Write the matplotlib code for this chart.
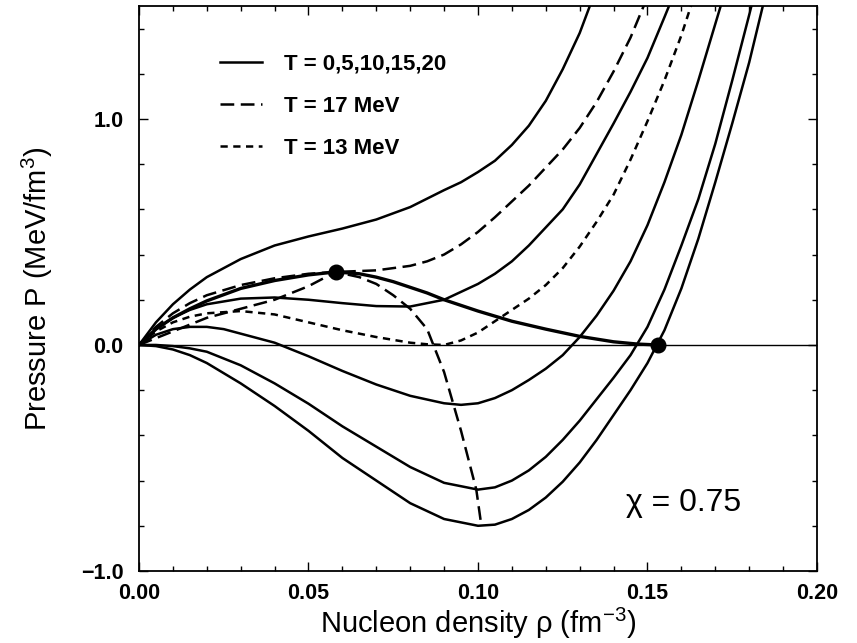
import numpy as np
import matplotlib
matplotlib.use("Agg")
import matplotlib.pyplot as plt
from matplotlib.ticker import MultipleLocator, FixedLocator

plt.rcParams['font.family'] = ['Liberation Sans', 'DejaVu Sans']
plt.rcParams['mathtext.fontset'] = 'custom'
plt.rcParams['mathtext.rm'] = 'Liberation Sans'
plt.rcParams['mathtext.it'] = 'Liberation Sans:italic'
plt.rcParams['mathtext.bf'] = 'Liberation Sans:bold'
plt.rcParams['mathtext.default'] = 'regular'

# ---------------- data ----------------
rho_T20 = [0, .005, .01, .015, .02, .03, .04, .05, .06, .07, .08, .09, .095, .10, .105, .11, .115, .12, .125, .13, .135]
P_T20 = [0, .10, .18, .245, .30, .38, .44, .48, .515, .555, .61, .685, .72, .765, .815, .885, .97, 1.08, 1.22, 1.38, 1.58]

rho_T17 = [0, .005, .01, .015, .02, .03, .04, .05, .058, .07, .08, .085, .09, .095, .10, .105, .11, .115, .12, .125, .13, .135, .14, .145, .15]
P_T17 = [0, .08, .14, .185, .22, .265, .295, .315, .323, .33, .35, .37, .40, .445, .50, .565, .635, .705, .785, .865, .96, 1.075, 1.21, 1.36, 1.54]

rho_T15 = [0, .005, .01, .015, .02, .03, .04, .05, .06, .07, .08, .09, .10, .105, .11, .115, .12, .125, .13, .135, .14, .145, .15, .155, .158]
P_T15 = [0, .07, .12, .155, .18, .205, .21, .20, .185, .172, .17, .20, .27, .315, .37, .44, .52, .60, .71, .845, .98, 1.12, 1.27, 1.45, 1.56]

rho_T13 = [0, .005, .01, .015, .02, .03, .04, .05, .06, .07, .08, .085, .09, .095, .10, .105, .11, .115, .12, .125, .13, .135, .14, .145, .15, .155, .16, .165]
P_T13 = [0, .06, .10, .125, .14, .15, .135, .10, .065, .035, .01, .003, 0, .02, .055, .105, .155, .205, .265, .34, .435, .545, .665, .82, .99, 1.17, 1.37, 1.60]

rho_T10 = [0, .005, .01, .015, .02, .025, .03, .04, .05, .06, .07, .08, .09, .095, .10, .105, .11, .115, .12, .125, .13, .135, .14, .145, .15, .155, .16, .165, .17, .173]
P_T10 = [0, .045, .07, .08, .08, .07, .05, .01, -.05, -.115, -.175, -.225, -.258, -.265, -.258, -.235, -.2, -.155, -.105, -.045, .035, .13, .24, .37, .53, .72, .93, 1.17, 1.42, 1.57]

rho_T5 = [0, .005, .01, .015, .02, .03, .04, .05, .06, .07, .08, .09, .10, .105, .11, .115, .12, .125, .13, .135, .14, .145, .15, .155, .16, .165, .17, .175, .18, .182]
P_T5 = [0, 0, -.005, -.015, -.03, -.09, -.17, -.26, -.36, -.45, -.54, -.61, -.64, -.63, -.6, -.555, -.495, -.42, -.335, -.24, -.145, -.045, .08, .245, .44, .645, .89, 1.17, 1.46, 1.58]

rho_T0 = [0, .005, .01, .015, .02, .03, .04, .05, .06, .07, .08, .09, .10, .105, .11, .115, .12, .125, .13, .135, .14, .145, .15, .155, .16, .165, .17, .175, .18, .185]
P_T0 = [0, -.005, -.02, -.045, -.08, -.17, -.27, -.38, -.5, -.6, -.7, -.77, -.80, -.795, -.77, -.73, -.675, -.605, -.52, -.42, -.31, -.20, -.08, .065, .25, .47, .72, .98, 1.25, 1.56]

rho_binodal = [0, .005, .01, .015, .02, .03, .04, .05, .058, .065, .07, .075, .08, .085, .09, .10, .11, .12, .13, .14, .147, .153]
P_binodal = [0, .07, .12, .16, .195, .25, .285, .31, .323, .315, .30, .28, .255, .23, .20, .15, .105, .07, .038, .014, .004, 0]

rho_spinodal = [0, .01, .02, .03, .04, .05, .058, .065, .07, .075, .08, .085, .09, .095, .0995, .101]
P_spinodal = [0, .06, .12, .16, .2, .26, .323, .30, .27, .22, .16, .07, -.12, -.38, -.64, -.80]

rho_points = [0.058, 0.153]
P_points = [0.323, 0.0]

legend_labels = ['T = 0,5,10,15,20', 'T = 17 MeV', 'T = 13 MeV']
chi_label = 'χ = 0.75'

x_ticks = [0.00, 0.05, 0.10, 0.15, 0.20]
x_ticklabels = ['0.00', '0.05', '0.10', '0.15', '0.20']
y_ticks = [-1.0, 0.0, 1.0]
y_ticklabels = ['\u22121.0', '0.0', '1.0']

# ---------------- figure ----------------
fig = plt.figure(figsize=(8.57, 6.43), dpi=100)
ax = fig.add_axes([0.1622, 0.112, 0.7911, 0.8788])

lw = 1.8
long_dash = (5.5, 2.6)
short_dash = (2.9, 2.2)

ax.axhline(0.0, color='black', lw=1.0, zorder=1)

h_solid, = ax.plot(rho_T20, P_T20, color='black', lw=lw)
for r, p in [(rho_T15, P_T15), (rho_T10, P_T10), (rho_T5, P_T5), (rho_T0, P_T0)]:
    ax.plot(r, p, color='black', lw=lw)

h_17, = ax.plot(rho_T17, P_T17, color='black', lw=lw, linestyle=(0, long_dash))
h_13, = ax.plot(rho_T13, P_T13, color='black', lw=lw, linestyle=(0, short_dash))

ax.plot(rho_binodal, P_binodal, color='black', lw=2.4)
ax.plot(rho_spinodal, P_spinodal, color='black', lw=lw, linestyle=(0, long_dash))

ax.plot(rho_points, P_points, 'o', color='black', markersize=10.5, zorder=5)

ax.set_xlim(0.0, 0.2)
ax.set_ylim(-1.0, 1.5)

ax.xaxis.set_major_locator(FixedLocator(x_ticks))
ax.set_xticklabels(x_ticklabels)
ax.xaxis.set_minor_locator(MultipleLocator(0.01))
ax.yaxis.set_major_locator(FixedLocator(y_ticks))
ax.set_yticklabels(y_ticklabels)
ax.yaxis.set_minor_locator(MultipleLocator(0.2))

ax.tick_params(which='both', direction='in', top=True, right=True, width=1.0)
ax.tick_params(which='major', length=6.5)
ax.tick_params(which='minor', length=3.5)
ax.tick_params(axis='x', which='major', pad=9, labelsize=15.5)
ax.tick_params(axis='y', which='major', pad=11, labelsize=15.5)
for lab in ax.get_xticklabels() + ax.get_yticklabels():
    lab.set_fontweight('bold')

for s in ax.spines.values():
    s.set_linewidth(1.3)

ax.set_xlabel('Nucleon density ρ (fm$^{-3}$)', fontsize=21, labelpad=1)
ax.set_ylabel('Pressure P (MeV/fm$^{3}$)', fontsize=21, labelpad=19)

leg = ax.legend([h_solid, h_17, h_13], legend_labels, loc='upper left',
                bbox_to_anchor=(0.119, 0.915), frameon=False, borderpad=0,
                borderaxespad=0, handlelength=1.9, handletextpad=1.0,
                labelspacing=0.95, prop={'size': 16, 'weight': 'bold'})

ax.text(0.1605, -0.70, chi_label, fontsize=23, ha='center', va='center')

fig.savefig('out.png', dpi=100)
